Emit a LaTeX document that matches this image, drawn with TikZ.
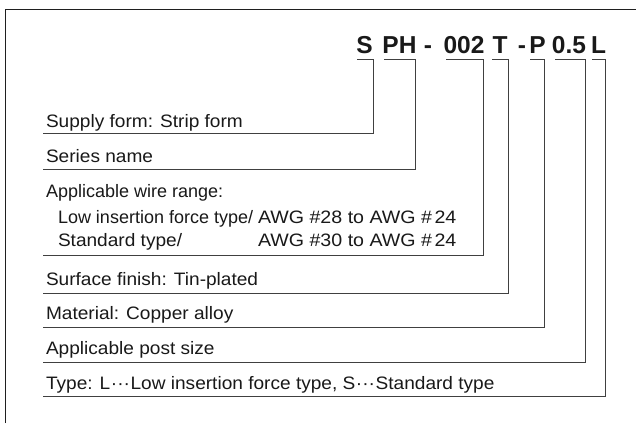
\documentclass[tikz,border=0pt]{standalone}
\usepackage{fontspec}
\setmainfont{Liberation Sans}
\newfontfamily\widefont[FakeStretch=1.06]{Liberation Sans}
\newfontfamily\widerfont[FakeStretch=1.09]{Liberation Sans}
\newcommand{\mydots}{\kern0.6pt···\kern0.6pt}
\begin{document}
\begin{tikzpicture}[x=1pt,y=-1pt,
  every node/.style={inner sep=0pt, outer sep=0pt},
  lbl/.style={anchor=base west, font=\widefont\fontsize{18}{20}\selectfont, text=black!90},
  lbln/.style={lbl, font=\fontsize{18}{20}\selectfont},
  lblw/.style={lbl, font=\widerfont\fontsize{18}{20}\selectfont},
  code/.style={anchor=base, font=\bfseries\fontsize{24.5}{26}\selectfont, text=black!90},
  ln/.style={draw=black!75, line width=0.8pt},
  frame/.style={draw=black!88, line width=1pt}]
\useasboundingbox (0,0) rectangle (636,423);
\fill[white] (0,0) rectangle (636,423);
\draw[frame] (5,423) -- (5,9) -- (636,9);

% code pieces
\node[code] (cS)   at (364.5,53) {S};
\node[code] (cPH)  at (399.5,53) {PH};
\node[code] (d1)   at (428,53)   {-};
\node[code] (c002) at (464,53)   {002};
\node[code] (cT)   at (500,53)   {T};
\node[code] (d2)   at (522,53)   {-};
\node[code] (cP)   at (537.5,53) {P};
\node[code] (c05)  at (569,53)   {0.5};
\node[code] (cL)   at (598.5,53) {L};

% labels
\node[lbl]  (tS)   at (46,127) {Supply form: Strip form};
\node[lbl]  (tPH)  at (46,162) {Series name};
\node[lbln] (tW)   at (46,197) {Applicable wire range:};
\node[lbln] (tW1)  at (58,223) {Low insertion force type/};
\node[lblw] (tW1b) at (258,223) {AWG \#28 to AWG \#\hspace{2.5pt}24};
\node[lbl]  (tW2)  at (58,246) {Standard type/};
\node[lblw] (tW2b) at (258,246) {AWG \#30 to AWG \#\hspace{2.5pt}24};
\node[lbl]  (tT)   at (46,285) {Surface finish: Tin-plated};
\node[lbl]  (tP)   at (46,319) {Material: Copper alloy};
\node[lbl]  (t05)  at (46,354) {Applicable post size};
\node[lbl]  (tL)   at (46,389) {Type: L\mydots Low insertion force type, S\mydots Standard type};

% bracket corners
\coordinate (kS1) at (357,59);   \coordinate (kS2) at (373,59);
\coordinate (kPH1) at (384,59);  \coordinate (kPH2) at (415,59);
\coordinate (k0021) at (446,59); \coordinate (k0022) at (483,59);
\coordinate (kT1) at (492,59);   \coordinate (kT2) at (508,59);
\coordinate (kP1) at (530,59);   \coordinate (kP2) at (544,59);
\coordinate (k051) at (555,59);  \coordinate (k052) at (585,59);
\coordinate (kL1) at (592,59);   \coordinate (kL2) at (605,59);

% row line starts
\coordinate (rS) at (43,133);
\coordinate (rPH) at (43,169);
\coordinate (r002) at (43,255);
\coordinate (rT) at (43,293);
\coordinate (rP) at (43,327);
\coordinate (r05) at (43,362);
\coordinate (rL) at (43,396);

\draw[ln] (kS1) -- (kS2) |- (rS);
\draw[ln] (kPH1) -- (kPH2) |- (rPH);
\draw[ln] (k0021) -- (k0022) |- (r002);
\draw[ln] (kT1) -- (kT2) |- (rT);
\draw[ln] (kP1) -- (kP2) |- (rP);
\draw[ln] (k051) -- (k052) |- (r05);
\draw[ln] (kL1) -- (kL2) |- (rL);
\end{tikzpicture}
\end{document}
